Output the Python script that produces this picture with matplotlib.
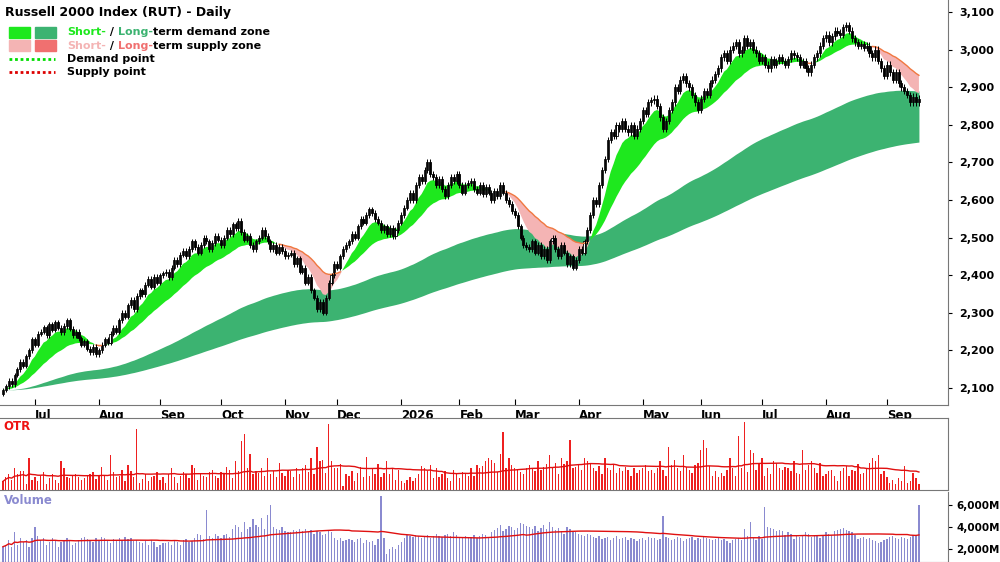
import numpy as np
import pandas as pd
import matplotlib.pyplot as plt
from matplotlib.patches import Rectangle
from pandas.tseries.holiday import USFederalHolidayCalendar

# daily closes
closes = [
    2095, 2105, 2120, 2110, 2135, 2150, 2170, 2160, 2185, 2200, 2230, 2215, 2245,
    2250, 2262, 2240, 2270, 2255, 2275, 2260, 2248, 2265, 2280, 2258, 2240, 2250, 2232, 2215, 2225, 2205, 2195, 2210, 2190, 2200,
    2215, 2230, 2220, 2245, 2260, 2250, 2280, 2300, 2290, 2320, 2335, 2310, 2345, 2360, 2350, 2375, 2390, 2370, 2395, 2380, 2400, 2405,
    2410, 2395, 2420, 2440, 2430, 2455, 2465, 2450, 2470, 2490, 2475, 2460, 2480, 2500, 2490, 2470, 2485, 2505, 2495, 2480,
    2500, 2520, 2510, 2535, 2525, 2545, 2515, 2495, 2505, 2480, 2470, 2490, 2500, 2520, 2505, 2490, 2470, 2480, 2460, 2475, 2465, 2450, 2455,
    2460, 2430, 2445, 2410, 2420, 2380, 2395, 2360, 2340, 2310, 2330, 2300, 2340, 2380, 2400, 2430, 2420, 2450, 2470, 2480,
    2490, 2510, 2500, 2530, 2550, 2540, 2560, 2575, 2565, 2550, 2540, 2520, 2530, 2510, 2525, 2505, 2520, 2540, 2560, 2580, 2600,
    2620, 2600, 2640, 2660, 2650, 2680, 2700, 2670, 2660, 2640, 2655, 2630, 2610, 2640, 2660, 2650, 2670, 2640, 2620, 2640, 2645,
    2650, 2630, 2620, 2640, 2615, 2635, 2620, 2600, 2625, 2610, 2640, 2620, 2600, 2590, 2570, 2560, 2530, 2500, 2480, 2475,
    2470, 2490, 2460, 2480, 2450, 2470, 2440, 2490, 2500, 2470, 2450, 2480, 2460, 2430, 2450, 2420, 2440, 2470, 2460, 2490, 2520,
    2560, 2600, 2590, 2640, 2680, 2710, 2760, 2780, 2770, 2800, 2790, 2810, 2790, 2780, 2800, 2770, 2790, 2810, 2840, 2830, 2860, 2865,
    2870, 2850, 2820, 2790, 2810, 2840, 2860, 2900, 2890, 2920, 2930, 2910, 2900, 2880, 2860, 2840, 2870, 2890, 2880, 2910, 2920, 2935,
    2950, 2980, 2990, 2970, 3000, 3010, 3020, 2990, 3000, 3030, 3010, 3020, 3000, 2990, 2970, 2980, 2960, 2950, 2975, 2960, 2970,
    2980, 2970, 2960, 2975, 2990, 2985, 2980, 2960, 2970, 2950, 2940, 2960, 2980, 2990, 3010, 3030, 3040, 3020, 3035, 3050, 3045,
    3040, 3060, 3065, 3050, 3030, 3020, 3010, 3015, 3005, 3010, 2990, 2980, 3000, 2970, 2950, 2930, 2960, 2940, 2920, 2940,
    2910, 2900, 2890, 2880, 2860, 2875, 2860, 2870,
]

# volume in units of 100M
volume = [
    22, 24, 28, 22, 35, 24, 30, 26, 28, 22, 30, 40, 32, 28, 30, 24, 26, 30, 28, 22, 26, 28, 30, 28, 24, 25, 28, 30, 31, 29, 28, 26, 30, 28,
    31, 30, 28, 25, 29, 27, 30, 28, 31, 29, 30, 27, 28, 26, 25, 27, 24, 28, 26, 22, 24, 25,
    25, 26, 24, 27, 26, 24, 28, 29, 26, 27, 30, 34, 33, 29, 56, 32, 30, 34, 32, 30,
    33, 34, 31, 38, 42, 40, 35, 45, 38, 40, 47, 42, 40, 48, 38, 51, 60, 40, 38, 37, 40, 36, 35,
    35, 37, 36, 38, 36, 38, 35, 37, 34, 36, 35, 33, 34, 36, 35, 30, 28, 30, 27, 28,
    29, 28, 26, 29, 30, 25, 28, 26, 27, 24, 29, 68, 30, 15, 20, 22, 20, 24, 26, 30, 33,
    32, 31, 33, 32, 30, 31, 33, 30, 32, 34, 32, 31, 33, 34, 32, 35, 33, 31, 30, 32, 31,
    31, 33, 30, 32, 34, 33, 31, 35, 37, 39, 42, 36, 38, 41, 40, 37, 39, 44, 43, 41,
    40, 38, 41, 36, 39, 42, 38, 45, 40, 37, 39, 36, 34, 40, 38, 36, 35, 34, 33, 32, 34,
    33, 31, 30, 32, 29, 30, 31, 28, 30, 32, 29, 30, 31, 28, 30, 29, 27, 29, 30, 28, 31, 30,
    30, 28, 29, 50, 31, 30, 28, 29, 31, 30, 27, 29, 30, 31, 28, 30, 29, 31, 30, 29, 28, 29,
    30, 28, 29, 27, 25, 28, 29, 30, 28, 38, 32, 45, 30, 28, 32, 29, 58, 40, 39, 38, 36,
    37, 36, 33, 35, 34, 29, 32, 31, 33, 35, 34, 31, 33, 32, 30, 33, 35, 34, 33, 36, 37,
    38, 39, 37, 36, 35, 33, 29, 30, 31, 29, 30, 28, 27, 25, 26, 28, 29, 31, 32, 30,
    29, 31, 30, 29, 31, 33, 32, 60,
]

# OTR bar heights (0-100 panel scale)
otr = [
    12, 18, 22, 14, 30, 22, 26, 26, 8, 45, 14, 18, 12, 20, 25, 8, 16, 22, 14, 10, 40, 30, 18, 16, 20, 22, 18, 14, 16, 20, 22, 25, 15, 20,
    32, 20, 14, 48, 25, 18, 20, 28, 12, 35, 26, 18, 85, 10, 15, 22, 12, 18, 20, 25, 14, 18,
    10, 22, 30, 18, 10, 20, 25, 22, 16, 35, 30, 14, 22, 20, 18, 25, 28, 20, 16, 25,
    22, 32, 28, 16, 40, 26, 68, 78, 30, 50, 22, 26, 24, 30, 20, 45, 22, 26, 18, 38, 24, 20, 28,
    26, 18, 30, 22, 30, 35, 25, 45, 22, 60, 40, 42, 24, 92, 40, 30, 30, 36, 5, 22,
    20, 26, 12, 24, 32, 18, 46, 20, 30, 22, 36, 18, 24, 40, 22, 30, 14, 28, 12, 10, 14,
    18, 12, 16, 22, 34, 30, 26, 35, 16, 30, 18, 22, 26, 16, 12, 28, 22, 16, 25, 24, 20,
    30, 20, 35, 30, 34, 40, 45, 42, 38, 25, 50, 80, 30, 45, 35, 30, 28, 25, 22, 30,
    35, 30, 26, 40, 28, 32, 36, 48, 30, 38, 22, 44, 36, 40, 70, 30, 32, 36, 28, 45, 40,
    38, 30, 26, 34, 22, 45, 30, 28, 36, 24, 30, 26, 32, 28, 20, 30, 24, 28, 30, 35, 26, 28,
    24, 30, 40, 28, 20, 60, 35, 42, 30, 26, 48, 32, 28, 24, 35, 38, 55, 70, 58, 34, 20, 26,
    18, 24, 20, 28, 45, 30, 20, 75, 30, 95, 25, 55, 52, 28, 36, 45, 20, 30, 22, 40, 38, 30,
    28, 32, 30, 26, 40, 24, 22, 55, 28, 35, 40, 30, 24, 38, 20, 22, 26, 28, 20, 12, 26,
    30, 34, 20, 28, 26, 36, 22, 24, 30, 38, 45, 40, 48, 22, 26, 18, 10, 14, 8, 16,
    12, 34, 10, 12, 24, 16, 8, 28, 12, 18, 20, 26, 22, 12, 34, 20, 26, 18, 12, 22, 20,
    22, 18, 20, 48, 18, 20, 17,
]

closes = pd.Series(closes, dtype=float)
n = len(closes)
volume = pd.Series(volume[:n], dtype=float) * 100
otr = pd.Series(otr[:n], dtype=float)
opens = closes.shift(1).fillna(closes.iloc[0] - 10)
tday = pd.offsets.CustomBusinessDay(calendar=USFederalHolidayCalendar())
dates = pd.date_range('2025-06-13', periods=n, freq=tday)
x = np.arange(n)

# zones
ema_s1 = closes.ewm(span=8, adjust=False).mean()
ema_s2 = closes.ewm(span=25, adjust=False).mean()
ema_l1 = closes.ewm(span=110, adjust=False).mean()
ema_l2 = closes.ewm(span=220, adjust=False).mean()

fig = plt.figure(figsize=(10, 5.62), dpi=100)
ax = fig.add_axes([0, 157 / 562, 0.948, 405 / 562])
ax_otr = fig.add_axes([0, 72 / 562, 0.948, 72 / 562], sharex=ax)
ax_vol = fig.add_axes([0, 0, 0.948, 70 / 562], sharex=ax)

up_l = ema_l1 >= ema_l2
ax.fill_between(x, ema_l1, ema_l2, where=up_l, color='#3cb371', lw=0, interpolate=True)
ax.fill_between(x, ema_l1, ema_l2, where=~up_l, color='#f07070', lw=0, interpolate=True)
up_s = ema_s1 >= ema_s2
ax.fill_between(x, ema_s1, ema_s2, where=up_s, color='#1ee81e', lw=0, interpolate=True)
ax.fill_between(x, ema_s1, ema_s2, where=~up_s, color='#f4b4b4', lw=0, interpolate=True)
ax.plot(x, ema_s2.where(~up_s), color='#f07840', lw=1)

# candles
for i in x:
    o, c = opens[i], closes[i]
    hi, lo = max(o, c) * 1.003, min(o, c) * 0.997
    ax.vlines(i, lo, hi, color='black', lw=0.7)
    face = 'white' if c >= o else 'black'
    ax.add_patch(Rectangle((i - 0.35, min(o, c)), 0.7, max(abs(c - o), 2),
                           facecolor=face, edgecolor='black', lw=0.6))

ax.set_ylim(2055, 3132)
ax.set_xlim(-1, 325)
ax.yaxis.tick_right()
ax.set_yticks(range(2100, 3101, 100))
ax.set_yticklabels([f'{v:,}' for v in range(2100, 3101, 100)], fontweight='bold', fontsize=8)
ax.text(0.005, 0.985, 'Russell 2000 Index (RUT) - Daily', transform=ax.transAxes,
        fontsize=9, fontweight='bold', va='top')

# legend
lg = [(0.920, '#1ee81e', '#3cb371', 'Short-', 'Long-', 'term demand zone'),
      (0.887, '#f4b4b4', '#f07070', 'Short-', 'Long-', 'term supply zone')]
for yy, c1, c2, t1, t2, t3 in lg:
    ax.add_patch(Rectangle((0.010, yy - 0.013), 0.022, 0.026, transform=ax.transAxes, color=c1))
    ax.add_patch(Rectangle((0.037, yy - 0.013), 0.022, 0.026, transform=ax.transAxes, color=c2))
    t = ax.text(0.071, yy, t1, transform=ax.transAxes, color=c1, fontsize=8, fontweight='bold', va='center')
    t = ax.annotate(' / ', xycoords=t, xy=(1, 0), va='bottom', fontsize=8, fontweight='bold')
    t = ax.annotate(t2, xycoords=t, xy=(1, 0), va='bottom', fontsize=8, fontweight='bold', color=c2)
    ax.annotate(t3, xycoords=t, xy=(1, 0), va='bottom', fontsize=8, fontweight='bold')
for yy, col, lab in [(0.855, '#00dd00', 'Demand point'), (0.822, '#dd0000', 'Supply point')]:
    ax.plot([0.010, 0.058], [yy, yy], transform=ax.transAxes, color=col, ls=(0, (1, 1)), lw=2)
    ax.text(0.071, yy, lab, transform=ax.transAxes, fontsize=8, fontweight='bold', va='center')

# month ticks
month_starts = [i for i in range(1, n) if dates[i].month != dates[i - 1].month]
labels = ['2026' if dates[i].month == 1 else dates[i].strftime('%b') for i in month_starts]
ax.set_xticks(month_starts)
ax.set_xticklabels(labels, fontweight='bold', fontsize=8.5, ha='left')
ax.tick_params(axis='x', direction='in', length=4, pad=3)
ax.tick_params(axis='y', length=3, pad=5)

# OTR panel
ax_otr.bar(x, otr, width=0.45, color='#ee2020')
ax_otr.plot(x, otr.rolling(40, min_periods=1).mean(), color='#e01010', lw=1)
ax_otr.set_ylim(0, 100)
ax_otr.set_yticks([])
ax_otr.text(0.004, 0.97, 'OTR', transform=ax_otr.transAxes, color='#ee1111',
            fontsize=8.5, fontweight='bold', va='top')

# volume panel
ax_vol.bar(x, volume, width=0.45, color='#8a8ad0')
ax_vol.plot(x, volume.rolling(50, min_periods=1).mean(), color='#e01010', lw=1)
ax_vol.set_ylim(800, 7200)
ax_vol.yaxis.tick_right()
ax_vol.set_yticks([2000, 4000, 6000])
ax_vol.set_yticklabels(['2,000M', '4,000M', '6,000M'], fontweight='bold', fontsize=7.5)
ax_vol.tick_params(axis='y', length=3, pad=3)
ax_vol.text(0.004, 0.97, 'Volume', transform=ax_vol.transAxes, color='#8a8ad0',
            fontsize=8.5, fontweight='bold', va='top')

for a in (ax, ax_otr, ax_vol):
    for s in ('top', 'left'):
        a.spines[s].set_visible(False)
    a.spines['right'].set_color('#777777')
    a.spines['bottom'].set_color('#777777')
for a in (ax_otr, ax_vol):
    a.tick_params(axis='x', bottom=False, labelbottom=False)
ax_otr.spines['top'].set_visible(True)
ax_otr.spines['top'].set_color('#777777')

fig.savefig('out.png', dpi=100)
